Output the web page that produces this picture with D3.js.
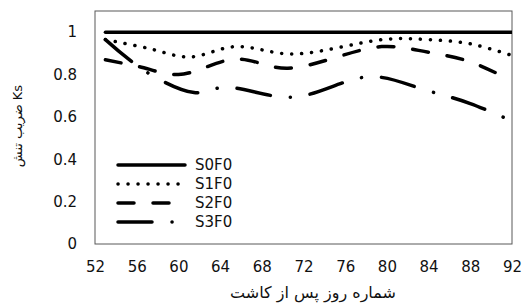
<!DOCTYPE html>
<html>
<head>
<meta charset="utf-8">
<script src="https://cdn.jsdelivr.net/npm/d3@7"></script>
<style>
  html, body { margin: 0; padding: 0; background: #fff; }
  svg text { font-family: "DejaVu Sans", sans-serif; fill: #111; }
</style>
</head>
<body>
<svg id="chart" width="531" height="304"></svg>
<script>
// ---- data ----
const xTicks = [52, 56, 60, 64, 68, 72, 76, 80, 84, 88, 92];
const yTicks = [0, 0.2, 0.4, 0.6, 0.8, 1];
const seriesNames = ["S0F0", "S1F0", "S2F0", "S3F0"];
const s0Days = [53, 92];
const s0Vals = [1, 1];
const s1Days = [53, 57, 61, 65.5, 71, 80, 84, 88, 92];
const s1Vals = [0.965, 0.925, 0.883, 0.932, 0.897, 0.967, 0.965, 0.945, 0.89];
const s2Days = [53, 56, 60, 65.5, 70.5, 79.5, 84, 88, 92];
const s2Vals = [0.87, 0.84, 0.80, 0.873, 0.83, 0.932, 0.905, 0.86, 0.77];
const s3Days = [53, 57, 61.5, 64.5, 71, 78.5, 84, 88, 92];
const s3Vals = [0.965, 0.81, 0.715, 0.74, 0.693, 0.79, 0.722, 0.663, 0.58];
const yTitle = "ضریب تنش Ks";
const xTitle = "شماره روز پس از کاشت";

// ---- layout ----
const svg = d3.select("#chart");
const L = 95, R = 512, T = 11, B = 244;
const x = d3.scaleLinear().domain([52, 92]).range([L, R]);
const y = d3.scaleLinear().domain([0, 1.1]).range([B, T]);

const styles = [
  { dash: null },
  { dash: "0.1,9.9" },
  { dash: "16,19" },
  { dash: "34,20,0.1,20" }
];

svg.append("defs").append("clipPath").attr("id", "clip")
  .append("rect").attr("x", L).attr("y", T).attr("width", R - L).attr("height", B - T);

// axes (labels only)
const xAxis = svg.append("g").attr("transform", `translate(0,${B})`)
  .call(d3.axisBottom(x).tickValues(xTicks).tickSize(0).tickPadding(17).tickFormat(d3.format("d")));
xAxis.select(".domain").remove();
xAxis.selectAll("text").attr("font-size", 15).attr("font-family", "DejaVu Sans").attr("fill", "#111");

const yAxis = svg.append("g").attr("transform", `translate(${L},0)`)
  .call(d3.axisLeft(y).tickValues(yTicks).tickSize(0).tickPadding(18).tickFormat(d => d === 0 || d === 1 ? String(d) : d3.format(".1f")(d)));
yAxis.select(".domain").remove();
yAxis.selectAll("text").attr("font-size", 15).attr("font-family", "DejaVu Sans").attr("fill", "#111");

// frame
svg.append("rect").attr("x", L).attr("y", T).attr("width", R - L).attr("height", B - T)
  .attr("fill", "none").attr("stroke", "#595959").attr("stroke-width", 1);

// lines
const seriesData = [
  s0Days.map((d, i) => [d, s0Vals[i]]),
  s1Days.map((d, i) => [d, s1Vals[i]]),
  s2Days.map((d, i) => [d, s2Vals[i]]),
  s3Days.map((d, i) => [d, s3Vals[i]])
];
const line = d3.line().x(d => x(d[0])).y(d => y(d[1])).curve(d3.curveCatmullRom.alpha(0.5));
const g = svg.append("g").attr("clip-path", "url(#clip)");
seriesData.forEach((data, i) => {
  g.append("path").datum(data).attr("d", line)
    .attr("fill", "none").attr("stroke", "#000").attr("stroke-width", 3.5)
    .attr("stroke-linecap", "round")
    .attr("stroke-dasharray", styles[i].dash);
});

// legend
const legY = [165, 184, 203, 222];
seriesNames.forEach((name, i) => {
  svg.append("line").attr("x1", 118).attr("x2", 185).attr("y1", legY[i]).attr("y2", legY[i])
    .attr("stroke", "#000").attr("stroke-width", 3.5).attr("stroke-linecap", "round")
    .attr("stroke-dasharray", styles[i].dash);
  svg.append("text").attr("x", 195).attr("y", legY[i]).attr("dy", "0.35em")
    .attr("font-size", 15).text(name);
});

// titles
svg.append("text").attr("transform", `translate(17,126) rotate(-90)`)
  .attr("text-anchor", "middle").attr("dy", "0.35em").attr("font-size", 13).text(yTitle);
svg.append("text").attr("x", 313).attr("y", 292).attr("text-anchor", "middle")
  .attr("dy", "0.35em").attr("font-size", 16).text(xTitle);
</script>
</body>
</html>
